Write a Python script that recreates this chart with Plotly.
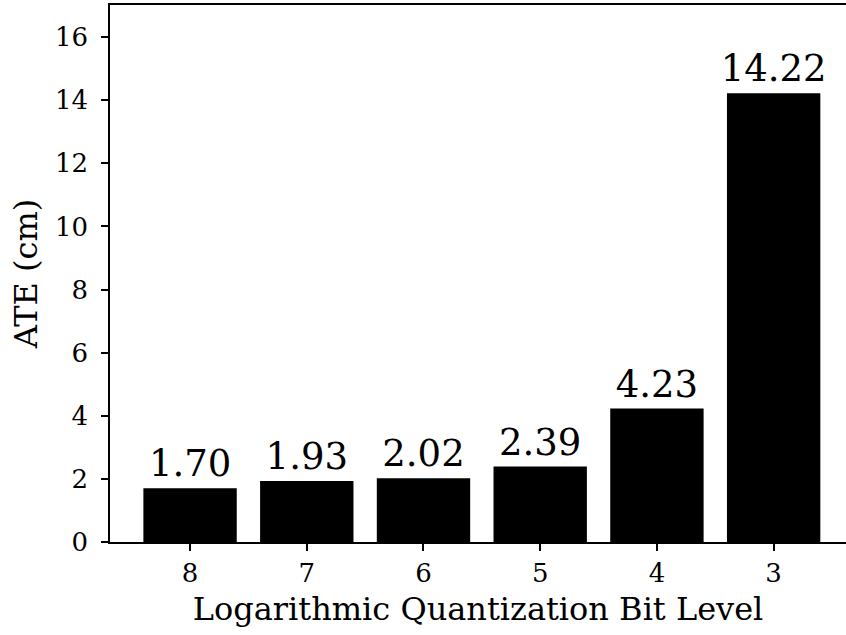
import plotly.graph_objects as go

categories = ["8", "7", "6", "5", "4", "3"]
ate_values = [1.70, 1.93, 2.02, 2.39, 4.23, 14.22]
y_ticks = [0, 2, 4, 6, 8, 10, 12, 14, 16]

FONT = "DejaVu Serif"

fig = go.Figure(go.Bar(
    x=categories,
    y=ate_values,
    marker=dict(color="black", line=dict(width=0)),
    text=[f"{v:.2f}" for v in ate_values],
    textposition="outside",
    constraintext="none",
    textfont=dict(family=FONT, size=37, color="black"),
    cliponaxis=False,
))

fig.update_layout(
    width=846, height=635,
    margin=dict(l=110, r=0, t=5, b=93),
    paper_bgcolor="white", plot_bgcolor="white",
    bargap=0.2,
    showlegend=False,
    font=dict(family=FONT, color="black"),
    uniformtext=dict(mode=False),
)
fig.update_xaxes(
    type="category",
    range=[-0.686, 5.62],
    showline=True, linecolor="black", linewidth=1.5, mirror=True,
    ticks="outside", ticklen=7, tickwidth=1.5, tickcolor="black",
    tickfont=dict(family=FONT, size=26, color="black"),
    title=dict(text="Logarithmic Quantization Bit Level", font=dict(family=FONT, size=32, color="black"), standoff=11),
    showgrid=False, zeroline=False,
)
fig.update_yaxes(
    range=[0, 17.02],
    tickvals=y_ticks,
    showline=True, linecolor="black", linewidth=1.5, mirror=False,
    ticks="outside", ticklen=7, tickwidth=1.5, tickcolor="black",
    ticklabelstandoff=8,
    tickfont=dict(family=FONT, size=26, color="black"),
    title=dict(text="ATE (cm)", font=dict(family=FONT, size=32, color="black"), standoff=8),
    showgrid=False, zeroline=False,
)

fig.write_html("out.html")
